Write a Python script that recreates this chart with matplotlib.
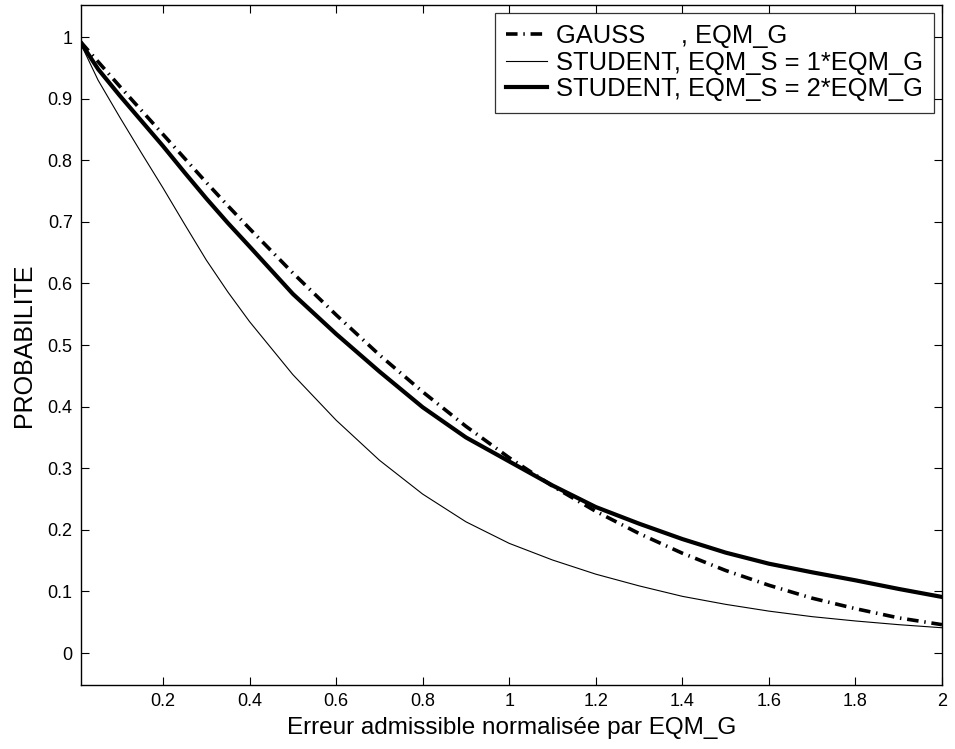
import matplotlib
matplotlib.use("Agg")
import matplotlib.pyplot as plt

x = [0.01, 0.05, 0.1, 0.15, 0.2, 0.25, 0.3, 0.35, 0.4, 0.5, 0.6, 0.7, 0.8, 0.9, 1.0,
     1.1, 1.2, 1.3, 1.4, 1.5, 1.6, 1.7, 1.8, 1.9, 2.0]
gauss = [0.992, 0.960, 0.920, 0.881, 0.842, 0.803, 0.764, 0.726, 0.689, 0.617, 0.549,
         0.484, 0.424, 0.368, 0.317, 0.271, 0.230, 0.194, 0.162, 0.134, 0.110, 0.089,
         0.072, 0.057, 0.046]
student1 = [0.989, 0.930, 0.870, 0.812, 0.755, 0.696, 0.638, 0.586, 0.538, 0.452, 0.378,
            0.313, 0.258, 0.213, 0.178, 0.151, 0.128, 0.109, 0.092, 0.079, 0.068, 0.059,
            0.052, 0.046, 0.041]
student2 = [0.991, 0.948, 0.905, 0.864, 0.823, 0.780, 0.738, 0.698, 0.660, 0.583, 0.518,
            0.457, 0.399, 0.350, 0.311, 0.272, 0.237, 0.210, 0.185, 0.163, 0.145, 0.131,
            0.118, 0.104, 0.091]
labels = ["GAUSS     , EQM_G", "STUDENT, EQM_S = 1*EQM_G", "STUDENT, EQM_S = 2*EQM_G"]
xticks = [0.2, 0.4, 0.6, 0.8, 1.0, 1.2, 1.4, 1.6, 1.8, 2.0]
xticklabels = ["0.2", "0.4", "0.6", "0.8", "1", "1.2", "1.4", "1.6", "1.8", "2"]
yticks = [0, 0.1, 0.2, 0.3, 0.4, 0.5, 0.6, 0.7, 0.8, 0.9, 1.0]
yticklabels = ["0", "0.1", "0.2", "0.3", "0.4", "0.5", "0.6", "0.7", "0.8", "0.9", "1"]

plt.rcParams['font.family'] = ['Liberation Sans', 'DejaVu Sans']

fig = plt.figure(figsize=(9.55, 7.49), dpi=100)
ax = fig.add_axes([0.0848, 0.0854, 0.9016, 0.9079])

ax.plot(x, gauss, color='black', lw=2.6, linestyle=(0, (3.2, 1.6, 0.4, 1.6)), label=labels[0])
ax.plot(x, student1, color='black', lw=0.8, label=labels[1])
ax.plot(x, student2, color='black', lw=3.0, label=labels[2])

ax.set_xlim(0.0105, 2.0)
ax.set_ylim(-0.052, 1.052)
ax.set_xticks(xticks)
ax.set_xticklabels(xticklabels)
ax.set_yticks(yticks)
ax.set_yticklabels(yticklabels)
ax.tick_params(direction='in', length=6, width=0.8, top=True, right=True,
               labelsize=13, pad=6)
for s in ax.spines.values():
    s.set_linewidth(1.0)

ax.set_xlabel("Erreur admissible normalisée par EQM_G", fontsize=17.5, labelpad=5)
ax.set_ylabel("PROBABILITE", fontsize=18, labelpad=8)

leg = ax.legend(loc='upper right', fontsize=18.4, frameon=True, fancybox=False,
                edgecolor='black', handlelength=1.6, handletextpad=0.35,
                borderpad=0.45, labelspacing=0.1, borderaxespad=0.3)
leg.get_frame().set_linewidth(0.9)

fig.savefig("out.png", dpi=100)
